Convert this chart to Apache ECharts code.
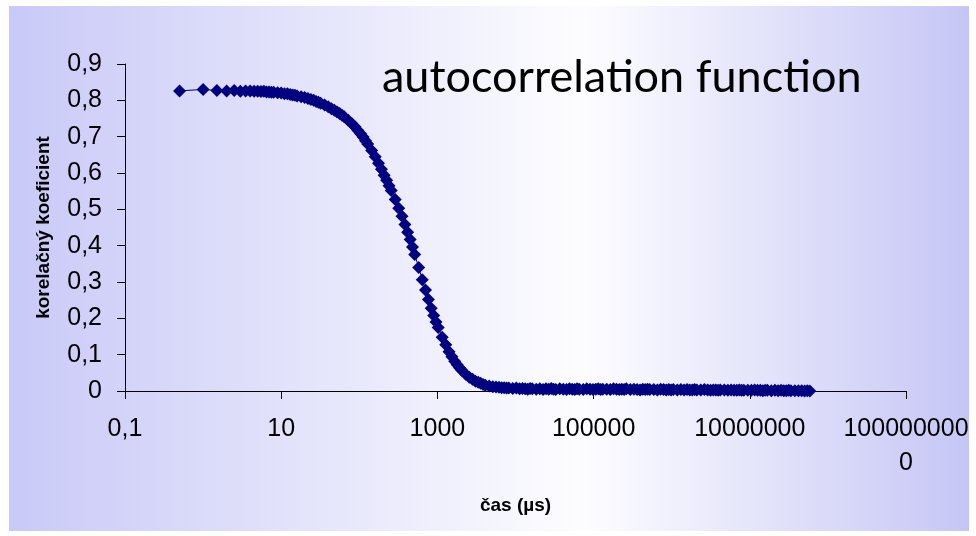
<!DOCTYPE html>
<html>
<head>
<meta charset="utf-8">
<script src="https://cdn.jsdelivr.net/npm/echarts@6/dist/echarts.min.js"></script>
<style>
  html, body { margin: 0; padding: 0; background: #ffffff; }
  #chart { width: 976px; height: 536px; }
</style>
</head>
<body>
<div id="chart"></div>
<script>
// Lag times of the multi-tau correlator channels (µs)
const lagTimes = [
  0.5, 1, 1.5, 2, 2.5, 3, 3.5, 4, 4.5, 5, 5.5, 6, 6.5, 7, 7.5, 8,
  9, 10, 11, 12, 13, 14, 15, 16,
  18, 20, 22, 24, 26, 28, 30, 32,
  36, 40, 44, 48, 52, 56, 60, 64,
  72, 80, 88, 96, 104, 112, 120, 128,
  144, 160, 176, 192, 208, 224, 240, 256,
  288, 320, 352, 384, 416, 448, 480, 512,
  576, 640, 704, 768, 832, 896, 960, 1024,
  1152, 1280, 1408, 1536, 1664, 1792, 1920, 2048,
  2304, 2560, 2816, 3072, 3328, 3584, 3840, 4096,
  4608, 5120, 5632, 6144, 6656, 7168, 7680, 8192,
  9216, 10240, 11264, 12288, 13312, 14336, 15360, 16384,
  18432, 20480, 22528, 24576, 26624, 28672, 30720, 32768,
  36864, 40960, 45056, 49152, 53248, 57344, 61440, 65536,
  73728, 81920, 90112, 98304, 106496, 114688, 122880, 131072,
  147456, 163840, 180224, 196608, 212992, 229376, 245760, 262144,
  294912, 327680, 360448, 393216, 425984, 458752, 491520, 524288,
  589824, 655360, 720896, 786432, 851968, 917504, 983040, 1048576,
  1179648, 1310720, 1441792, 1572864, 1703936, 1835008, 1966080, 2097152,
  2359296, 2621440, 2883584, 3145728, 3407872, 3670016, 3932160, 4194304,
  4718592, 5242880, 5767168, 6291456, 6815744, 7340032, 7864320, 8388608,
  9437184, 10485760, 11534336, 12582912, 13631488, 14680064, 15728640, 16777216,
  18874368, 20971520, 23068672, 25165824, 27262976, 29360128, 31457280, 33554432,
  37748736, 41943040, 46137344, 50331648, 54525952, 58720256
];

// Correlation coefficient measured at each lag time
const correlation = [
  0.826, 0.830, 0.827, 0.826, 0.827, 0.825, 0.826, 0.826, 0.825, 0.825, 0.824, 0.825, 0.823, 0.823, 0.822, 0.822,
  0.821, 0.820, 0.818, 0.818, 0.816, 0.815, 0.814, 0.812,
  0.810, 0.808, 0.805, 0.802, 0.800, 0.797, 0.795, 0.792,
  0.787, 0.782, 0.777, 0.773, 0.768, 0.764, 0.759, 0.755,
  0.745, 0.736, 0.727, 0.717, 0.708, 0.699, 0.689, 0.680,
  0.662, 0.645, 0.627, 0.610, 0.594, 0.580, 0.565, 0.552,
  0.527, 0.503, 0.481, 0.458, 0.437, 0.417, 0.396, 0.376,
  0.340, 0.306, 0.278, 0.252, 0.228, 0.208, 0.190, 0.175,
  0.148, 0.127, 0.108, 0.094, 0.082, 0.072, 0.064, 0.057,
  0.046, 0.038, 0.032, 0.027, 0.024, 0.021, 0.018, 0.016,
  0.014, 0.012, 0.011, 0.010, 0.009, 0.009, 0.008, 0.008,
  0.007, 0.008, 0.006, 0.007, 0.006, 0.005, 0.007, 0.006,
  0.005, 0.006, 0.004, 0.006, 0.005, 0.007, 0.005, 0.004,
  0.006, 0.005, 0.004, 0.006, 0.005, 0.004, 0.006, 0.005,
  0.004, 0.006, 0.005, 0.004, 0.005, 0.006, 0.004, 0.005,
  0.005, 0.004, 0.006, 0.005, 0.004, 0.005, 0.004, 0.006,
  0.004, 0.005, 0.004, 0.003, 0.005, 0.004, 0.005, 0.004,
  0.004, 0.003, 0.005, 0.004, 0.003, 0.004, 0.003, 0.004,
  0.003, 0.004, 0.003, 0.004, 0.003, 0.003, 0.004, 0.003,
  0.003, 0.004, 0.003, 0.002, 0.003, 0.003, 0.002, 0.003,
  0.003, 0.002, 0.003, 0.002, 0.002, 0.003, 0.002, 0.002,
  0.002, 0.002, 0.003, 0.002, 0.002, 0.001, 0.002, 0.002,
  0.001, 0.002, 0.001, 0.002, 0.001, 0.001, 0.002, 0.001,
  0.001, 0.001, 0.001, 0.000, 0.001, 0.000
];

// Axis tick labels (decimal comma)
const xTickLabels = ['0,1', '10', '1000', '100000', '10000000', '100000000\n0'];
const yTickLabels = ['0', '0,1', '0,2', '0,3', '0,4', '0,5', '0,6', '0,7', '0,8', '0,9'];

const chartTitle = 'autocorrelation function';
const xAxisName = 'čas (µs)';
const yAxisName = 'korelačný koeficient';

const points = lagTimes.map((t, i) => [t, correlation[i]]);

const chart = echarts.init(document.getElementById('chart'), null, { renderer: 'canvas' });

const labelFont = '"Liberation Sans", Arial, sans-serif';

chart.setOption({
  animation: false,
  backgroundColor: '#ffffff',
  graphic: [{
    type: 'rect',
    z: -10,
    silent: true,
    shape: { x: 9, y: 6, width: 960, height: 525 },
    style: {
      fill: new echarts.graphic.LinearGradient(0, 0, 1, 0, [
        { offset: 0, color: '#c9c9f8' },
        { offset: 0.6, color: '#fdfdff' },
        { offset: 1, color: '#c6c6f6' }
      ])
    }
  }],
  title: {
    text: chartTitle,
    left: 377,
    top: 50,
    textStyle: {
      fontFamily: 'Lato, "Open Sans", sans-serif',
      fontSize: 45,
      fontWeight: 'normal',
      color: '#000000'
    }
  },
  grid: { left: 125, right: 70, top: 64, bottom: 145, containLabel: false },
  xAxis: {
    type: 'log',
    logBase: 10,
    min: 0.1,
    max: 1e9,
    interval: 2,
    name: xAxisName,
    nameLocation: 'middle',
    nameGap: 105,
    nameTextStyle: { fontFamily: labelFont, fontSize: 19, fontWeight: 'bold', color: '#000000' },
    axisLine: { show: true, lineStyle: { color: '#000000', width: 1 } },
    axisTick: { show: true, length: 8, inside: false, lineStyle: { color: '#000000' } },
    axisLabel: {
      fontFamily: labelFont,
      fontSize: 25,
      color: '#000000',
      margin: 21,
      lineHeight: 34,
      formatter: (v, idx) => xTickLabels[idx] !== undefined ? xTickLabels[idx] : ''
    },
    splitLine: { show: false },
    minorTick: { show: false }
  },
  yAxis: {
    type: 'value',
    min: 0,
    max: 0.9,
    interval: 0.1,
    name: yAxisName,
    nameLocation: 'middle',
    nameGap: 72,
    nameRotate: 90,
    nameTextStyle: { fontFamily: labelFont, fontSize: 19, fontWeight: 'bold', color: '#000000' },
    axisLine: { show: true, lineStyle: { color: '#000000', width: 1 } },
    axisTick: { show: true, length: 8, inside: false, lineStyle: { color: '#000000' } },
    axisLabel: {
      fontFamily: labelFont,
      fontSize: 25,
      color: '#000000',
      margin: 23,
      formatter: (v, idx) => yTickLabels[idx] !== undefined ? yTickLabels[idx] : ''
    },
    splitLine: { show: false }
  },
  series: [{
    type: 'line',
    data: points,
    symbol: 'diamond',
    symbolSize: 13,
    showAllSymbol: true,
    itemStyle: { color: '#000080' },
    lineStyle: { color: '#000080', width: 1 },
    clip: false
  }]
});
</script>
</body>
</html>
